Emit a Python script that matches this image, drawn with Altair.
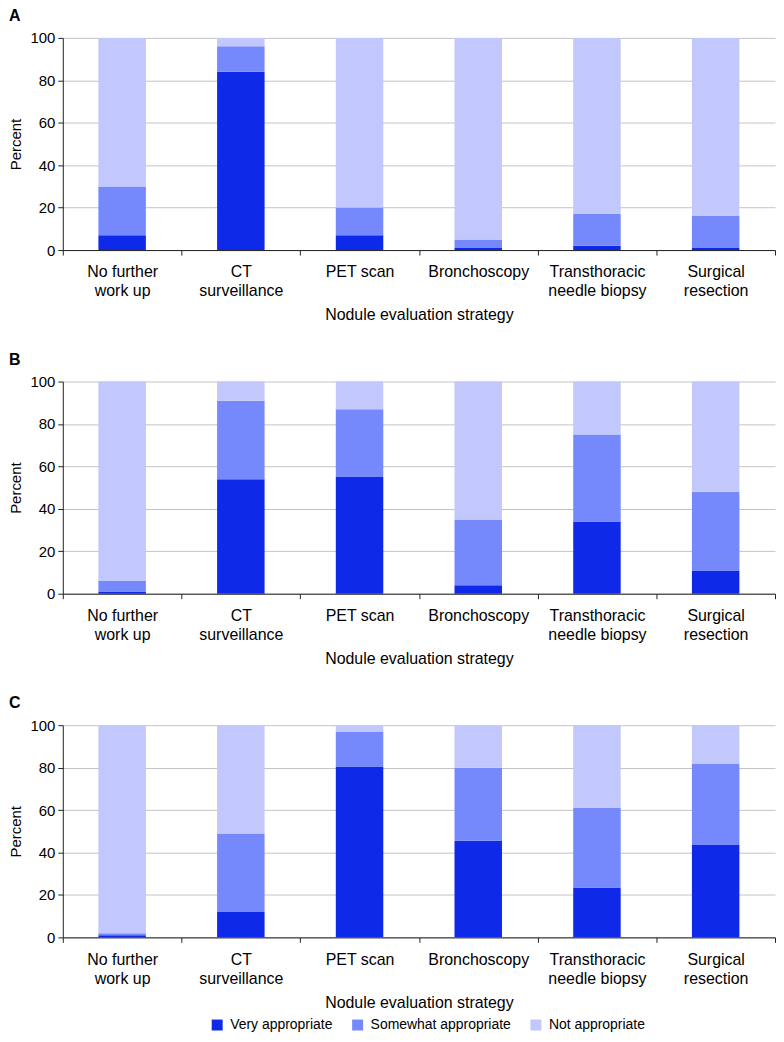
import altair as alt
import pandas as pd

categories = ["No further work up", "CT surveillance", "PET scan", "Bronchoscopy",
              "Transthoracic needle biopsy", "Surgical resection"]
label_lines = [["No further", "work up"], ["CT", "surveillance"], ["PET scan"], ["Bronchoscopy"],
               ["Transthoracic", "needle biopsy"], ["Surgical", "resection"]]
ratings = ["Very appropriate", "Somewhat appropriate", "Not appropriate"]
colors = ["#0f29e8", "#7589fc", "#c2c8fb"]

a_very = [7, 84, 7, 1, 2, 1]
a_somewhat = [23, 12, 13, 4, 15, 15]
a_not = [70, 4, 80, 95, 83, 84]

b_very = [1, 54, 55, 4, 34, 11]
b_somewhat = [5, 37, 32, 31, 41, 37]
b_not = [94, 9, 13, 65, 25, 52]

c_very = [1, 12, 80.5, 45.5, 23.5, 43.5]
c_somewhat = [1, 37, 16.5, 34.5, 37.5, 38.5]
c_not = [98, 51, 3, 20, 39, 18]

FONT = "Liberation Sans"

# multi-line x labels
expr = ""
for c, lines in zip(categories, label_lines):
    arr = "[" + ",".join("'" + l + "'" for l in lines) + "]"
    expr += f"datum.value == '{c}' ? {arr} : "
expr += "datum.value"


def panel(letter, very, somewhat, notap):
    rows = []
    for i, c in enumerate(categories):
        for j, v in enumerate([very[i], somewhat[i], notap[i]]):
            rows.append({"strategy": c, "rating": ratings[j], "rank": j, "percent": v})
    df = pd.DataFrame(rows)
    return alt.Chart(
        df,
        title=alt.TitleParams(letter, anchor="start", frame="bounds", fontSize=16,
                              fontWeight="bold", font=FONT, color="#000", offset=7),
    ).mark_bar(width=alt.RelativeBandSize(0.4)).encode(
        x=alt.X("strategy:N", sort=categories,
                scale=alt.Scale(paddingInner=0, paddingOuter=0),
                axis=alt.Axis(title="Nodule evaluation strategy", labelAngle=0,
                              labelExpr=expr, labelLineHeight=19, labelPadding=9,
                              labelFontSize=16, titleFontSize=16,
                              tickBand="extent", tickSize=5, tickColor="#222",
                              domainColor="#222", titlePadding=8, grid=False)),
        y=alt.Y("percent:Q", stack="zero",
                scale=alt.Scale(domain=[0, 100], nice=False),
                axis=alt.Axis(title="Percent", values=[0, 20, 40, 60, 80, 100],
                              tickSize=5, tickColor="#222", domainColor="#222",
                              gridColor="#c4c4c4", labelPadding=3, titlePadding=6)),
        color=alt.Color("rating:N", sort=ratings,
                        scale=alt.Scale(domain=ratings, range=colors),
                        legend=alt.Legend(title=None)),
        order=alt.Order("rank:Q", sort="ascending"),
    ).properties(width=715, height=213)


chart = alt.vconcat(
    panel("A", a_very, a_somewhat, a_not),
    panel("B", b_very, b_somewhat, b_not),
    panel("C", c_very, c_somewhat, c_not),
    spacing=29,
).properties(
    padding={"left": 0, "top": -2, "right": 0, "bottom": 0}
).configure_view(
    stroke=None
).configure_axis(
    labelFont=FONT, titleFont=FONT, labelFontSize=15, titleFontSize=15,
    labelColor="#000", titleColor="#000", titleFontWeight="normal", domainWidth=1,
).configure_legend(
    orient="none", legendX=148, legendY=984, direction="horizontal",
    labelFont=FONT, labelFontSize=14, labelColor="#000", symbolType="square",
    symbolSize=121, symbolStrokeWidth=0, symbolOpacity=1, labelOffset=6, columnPadding=18,
)

chart.save("out.html", embed_options={"renderer": "svg", "actions": False})
